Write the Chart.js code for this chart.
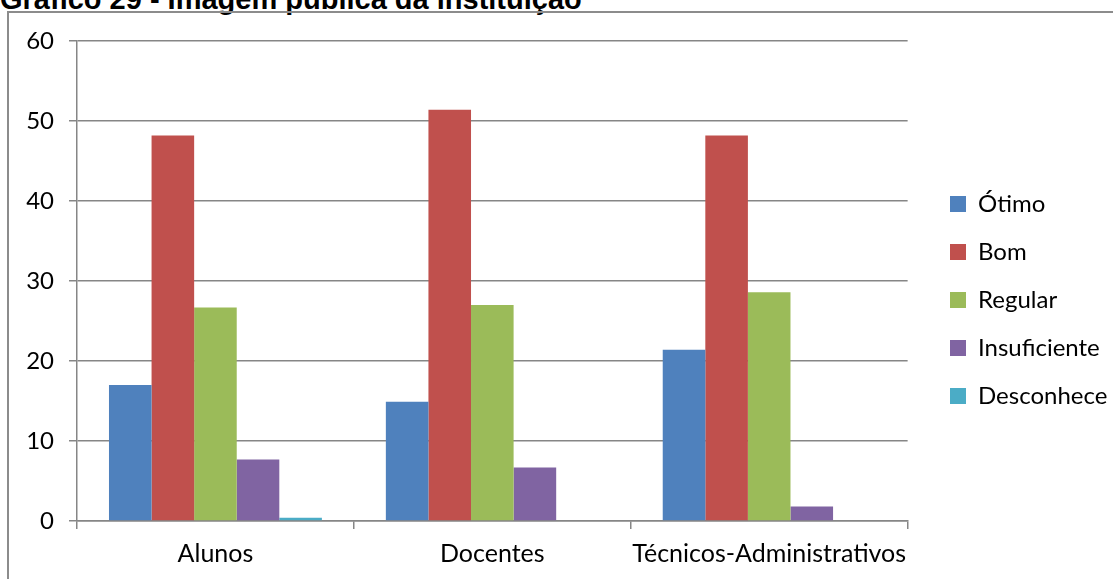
<!DOCTYPE html>
<html>
<head>
<meta charset="utf-8">
<script src="https://cdn.jsdelivr.net/npm/chart.js@4.4.0/dist/chart.umd.min.js"></script>
<style>
    html, body { margin: 0; padding: 0; background: #fff; overflow: hidden; }
    body { width: 1113px; height: 579px; position: relative; }
    #titulo {
        position: absolute; left: 0; top: -15px;
        font: bold 29px "Liberation Sans", Arial, sans-serif;
        line-height: 29px; white-space: nowrap; color: #000;
    }
    #moldura {
        position: absolute; left: 7px; top: 11px;
        width: 1120px; height: 600px;
        border: 2px solid #8c8c8c;
    }
    #grafico { position: absolute; left: 0; top: 0; }
</style>
</head>
<body>
<div id="titulo">Gráfico 29 - Imagem pública da instituição</div>
<div id="moldura"></div>
<canvas id="grafico" width="1113" height="579"></canvas>
<script>
// Dados (%)
const categorias = ['Alunos', 'Docentes', 'Técnicos-Administrativos'];
const otimo = [17.0, 14.9, 21.4];
const bom = [48.2, 51.4, 48.2];
const regular = [26.7, 27.0, 28.6];
const insuficiente = [7.7, 6.7, 1.8];
const desconhece = [0.4, 0, 0];
const ticksY = [0, 10, 20, 30, 40, 50, 60];

const fonte = { family: 'Lato', size: 24 };
const fonteX = { family: 'Lato', size: 25 };
const cinza = '#868686';

// Empurra a legenda para a posição do original
const ajusteLegenda = {
    id: 'ajusteLegenda',
    afterLayout(chart) {
        const lg = chart.legend;
        const dx = 950 - lg.options.labels.padding - lg.left;
        lg.left += dx;
        lg.right += dx;
        lg.top -= 10;
        lg.bottom -= 10;
    }
};

new Chart(document.getElementById('grafico'), {
    type: 'bar',
    data: {
        labels: categorias,
        datasets: [
            { label: 'Ótimo', data: otimo, backgroundColor: '#4F81BD' },
            { label: 'Bom', data: bom, backgroundColor: '#C0504D' },
            { label: 'Regular', data: regular, backgroundColor: '#9BBB59' },
            { label: 'Insuficiente', data: insuficiente, backgroundColor: '#8064A2' },
            { label: 'Desconhece', data: desconhece, backgroundColor: '#4BACC6' }
        ]
    },
    options: {
        responsive: false,
        animation: false,
        layout: { padding: { left: 0, top: 41, right: 14, bottom: 0 } },
        datasets: {
            bar: { categoryPercentage: 0.769, barPercentage: 1, borderWidth: 0 }
        },
        scales: {
            x: {
                grid: { drawOnChartArea: false, drawTicks: true, tickLength: 8, color: cinza, lineWidth: 1.5 },
                border: { display: true, color: cinza, width: 1.5 },
                ticks: { font: fonteX, color: '#000', padding: 10, maxRotation: 0, minRotation: 0, autoSkip: false },
                afterFit(scale) { scale.height = 58; }
            },
            y: {
                min: 0,
                max: 60,
                afterBuildTicks(scale) { scale.ticks = ticksY.map(v => ({ value: v })); },
                grid: { color: cinza, lineWidth: 1.5, tickLength: 8 },
                border: { display: true, color: cinza, width: 1.5 },
                ticks: { font: fonte, color: '#000', padding: 15 },
                afterFit(scale) { scale.width = 77; }
            }
        },
        plugins: {
            legend: {
                position: 'right',
                labels: { font: fonte, color: '#000', boxWidth: 16, boxHeight: 16, padding: 24 }
            },
            tooltip: { enabled: false }
        }
    },
    plugins: [ajusteLegenda]
});
</script>
</body>
</html>
